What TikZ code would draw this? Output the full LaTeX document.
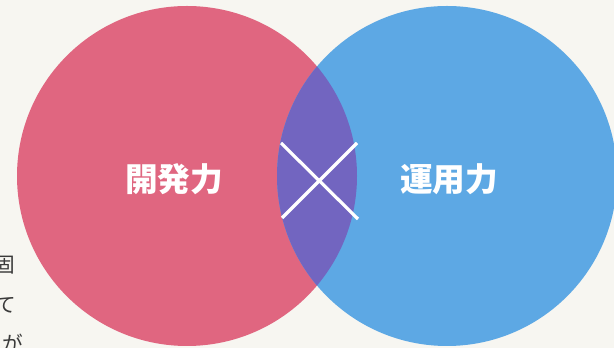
\documentclass[tikz,border=0pt]{standalone}
\usepackage{fontspec}
\newfontfamily\jpfont{Noto Sans CJK JP}
\usepackage{tikz}
\definecolor{paper}{HTML}{F7F6F1}
\definecolor{devred}{HTML}{E06680}
\definecolor{opsblue}{HTML}{5DA8E4}
\definecolor{mixpurple}{HTML}{7265C0}
\definecolor{bodytext}{HTML}{3A3A3A}
\tikzstyle{cross} = [draw=white,line width=2.4pt]
\tikzstyle{label} = [font=\jpfont\bfseries\fontsize{24.5}{28}\selectfont,text=white]
\tikzstyle{body} = [font=\jpfont\fontsize{15.5}{18}\selectfont,text=bodytext,inner sep=0pt,anchor=east]

\begin{document}
\begin{tikzpicture}[x=0.75pt,y=-0.75pt]
				\useasboundingbox (0,0) rectangle (614,348);
				\fill[paper] (0,0) rectangle (614,348);
				\node[circle,fill=devred,minimum size=255pt,inner sep=0pt] (dev) at (187,176) {};
				\node[circle,fill=opsblue,minimum size=255pt,inner sep=0pt] (ops) at (447,176) {};
				\begin{scope}
					\clip (dev.center) circle[radius=127.5pt];
					\fill[mixpurple] (ops.center) circle[radius=127.5pt];
				\end{scope}
				\node[label] (devlabel) at (174,179) {開発力};
				\node[label] (opslabel) at (449,179) {運用力};

				\coordinate (ul) at (281,143);
				\coordinate (ur) at (357,143);
				\coordinate (ll) at (282,218);
				\coordinate (lr) at (358,219);
				\foreach \source/ \dest in {ul/lr, ur/ll}
				\path[cross] (\source) -- (\dest);

				\node[body] (line1) at (15.5,265) {固};
				\node[body] (line2) at (16,305) {て};
				\node[body] (line3) at (23,343) {りが};
			\end{tikzpicture}
\end{document}
